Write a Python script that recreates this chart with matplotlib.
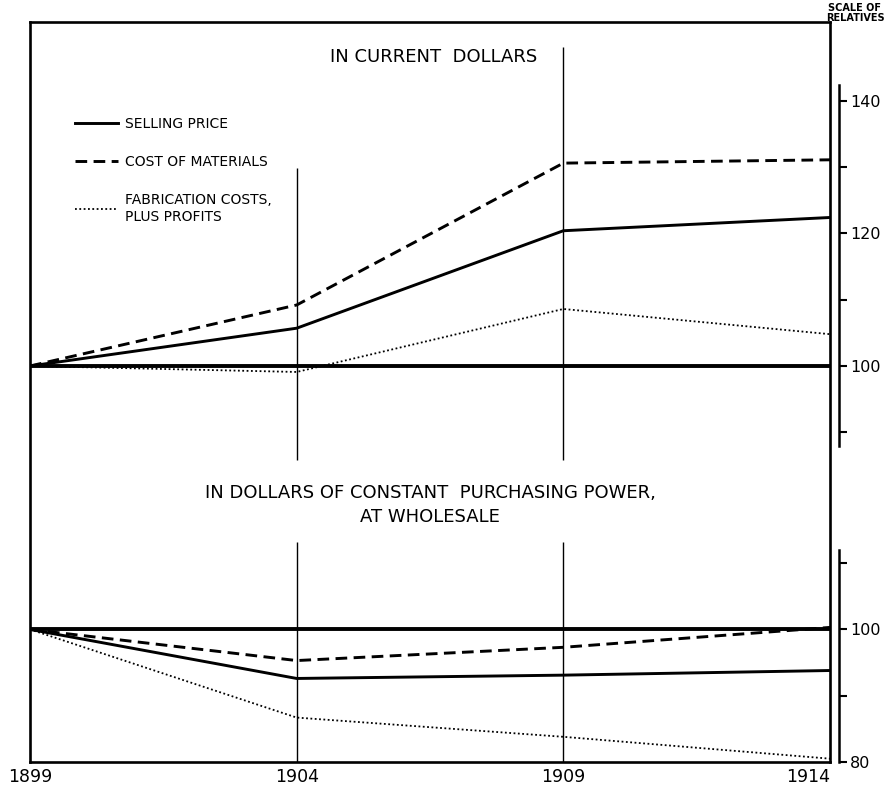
import matplotlib
matplotlib.use("Agg")
import matplotlib.pyplot as plt

# ---- data ----
years = [1899, 1904, 1909, 1914]
year_labels = ["1899", "1904", "1909", "1914"]

cur_selling = [100, 105.7, 120.4, 122.4]
cur_materials = [100, 109.2, 130.6, 131.1]
cur_fabrication = [100, 99.1, 108.6, 104.8]

con_selling = [100, 92.6, 93.1, 93.8]
con_materials = [100, 95.3, 97.3, 100.3]
con_fabrication = [100, 86.7, 83.8, 80.5]

upper_ticks = [90, 100, 110, 120, 130, 140]
upper_tick_labels = ["", "100", "", "120", "", "140"]
lower_ticks = [80, 90, 100, 110]
lower_tick_labels = ["80", "", "100", ""]

W, H = 886, 787
fig = plt.figure(figsize=(W / 100, H / 100), dpi=100)
plt.rcParams['font.family'] = ['DejaVu Sans']

left, right, top, bottom = 30, 830, 22, 762
rect = [left / W, 1 - bottom / H, (right - left) / W, (bottom - top) / H]
pxu = 6.63  # pixels per unit
span = (bottom - top) / pxu

ax_frame = fig.add_axes(rect)
ax_up = fig.add_axes(rect)
ax_lo = fig.add_axes(rect)

for a in (ax_frame, ax_up, ax_lo):
    a.set_xlim(1899, 1914)

# frame
ax_frame.set_zorder(0)
ax_up.set_zorder(2)
ax_lo.set_zorder(1)
ax_up.patch.set_visible(False)
ax_lo.patch.set_visible(False)
for s in ax_frame.spines.values():
    s.set_linewidth(1.9)
ax_frame.set_yticks([])
ax_frame.set_xticks(years)
ax_frame.set_xticklabels(year_labels, fontsize=12.5)
ax_frame.tick_params(axis='x', length=0, pad=4)
lbls = ax_frame.get_xticklabels()
lbls[-1].set_horizontalalignment('right')

# y limits
up_lo = 100 - (bottom - 366) / pxu
ax_up.set_ylim(up_lo, up_lo + span)
ax_lo.set_ylim(80, 80 + span)

def yu(py):
    return up_lo + (bottom - py) / pxu

def yl(py):
    return 80 + (bottom - py) / pxu

# right scales
for a, ticks, labels, bounds in (
        (ax_up, upper_ticks, upper_tick_labels, (yu(446), yu(85))),
        (ax_lo, lower_ticks, lower_tick_labels, (80, yl(550)))):
    for k in ('left', 'top', 'bottom'):
        a.spines[k].set_visible(False)
    a.spines['right'].set_position(('outward', 6.5))
    a.spines['right'].set_bounds(*bounds)
    a.spines['right'].set_linewidth(1.8)
    a.yaxis.tick_right()
    a.set_yticks(ticks)
    a.set_yticklabels(labels, fontsize=11.5)
    a.tick_params(axis='y', direction='out', length=6, width=1.5, pad=2)
    a.set_xticks([])

# reference lines
ax_up.axhline(100, color='black', lw=2.8, zorder=3)
ax_lo.axhline(100, color='black', lw=2.8, zorder=3)
ax_up.vlines([1904], yu(460), yu(168), color='black', lw=1.0)
ax_up.vlines([1909], yu(460), yu(47), color='black', lw=1.0)
ax_lo.vlines([1904, 1909], 80, yl(542), color='black', lw=1.0)

solid = dict(color='black', lw=2.1, linestyle='-')
dashed = dict(color='black', lw=2.1, linestyle=(0, (4, 2.2)))
dotted = dict(color='black', lw=1.3, linestyle=(0, (1, 1.4)))

l1, = ax_up.plot(years, cur_selling, **solid)
l2, = ax_up.plot(years, cur_materials, **dashed)
l3, = ax_up.plot(years, cur_fabrication, **dotted)

ax_lo.plot(years, con_selling, **solid)
ax_lo.plot(years, con_materials, **dashed)
ax_lo.plot(years, con_fabrication, **dotted)

leg = ax_up.legend([l1, l2, l3],
                   ["SELLING PRICE", "COST OF MATERIALS",
                    "FABRICATION COSTS,\nPLUS PROFITS"],
                   loc='upper left', bbox_to_anchor=(0.056, 0.872),
                   frameon=False, fontsize=10, handlelength=3.1,
                   handletextpad=0.5, labelspacing=1.75,
                   borderpad=0, borderaxespad=0)

# titles
ax_frame.text(0.504, (bottom - 57) / (bottom - top), "IN CURRENT  DOLLARS",
              transform=ax_frame.transAxes, ha='center', va='center', fontsize=13)
ax_frame.text(0.5, (bottom - 505) / (bottom - top),
              "IN DOLLARS OF CONSTANT  PURCHASING POWER,\nAT WHOLESALE",
              transform=ax_frame.transAxes, ha='center', va='center',
              fontsize=13, linespacing=1.4)
fig.text(855 / W, 1 - 13 / H, "SCALE OF\nRELATIVES", ha='center', va='center',
         fontsize=7, fontweight='bold', linespacing=0.95)

fig.savefig("out.png", dpi=100)
